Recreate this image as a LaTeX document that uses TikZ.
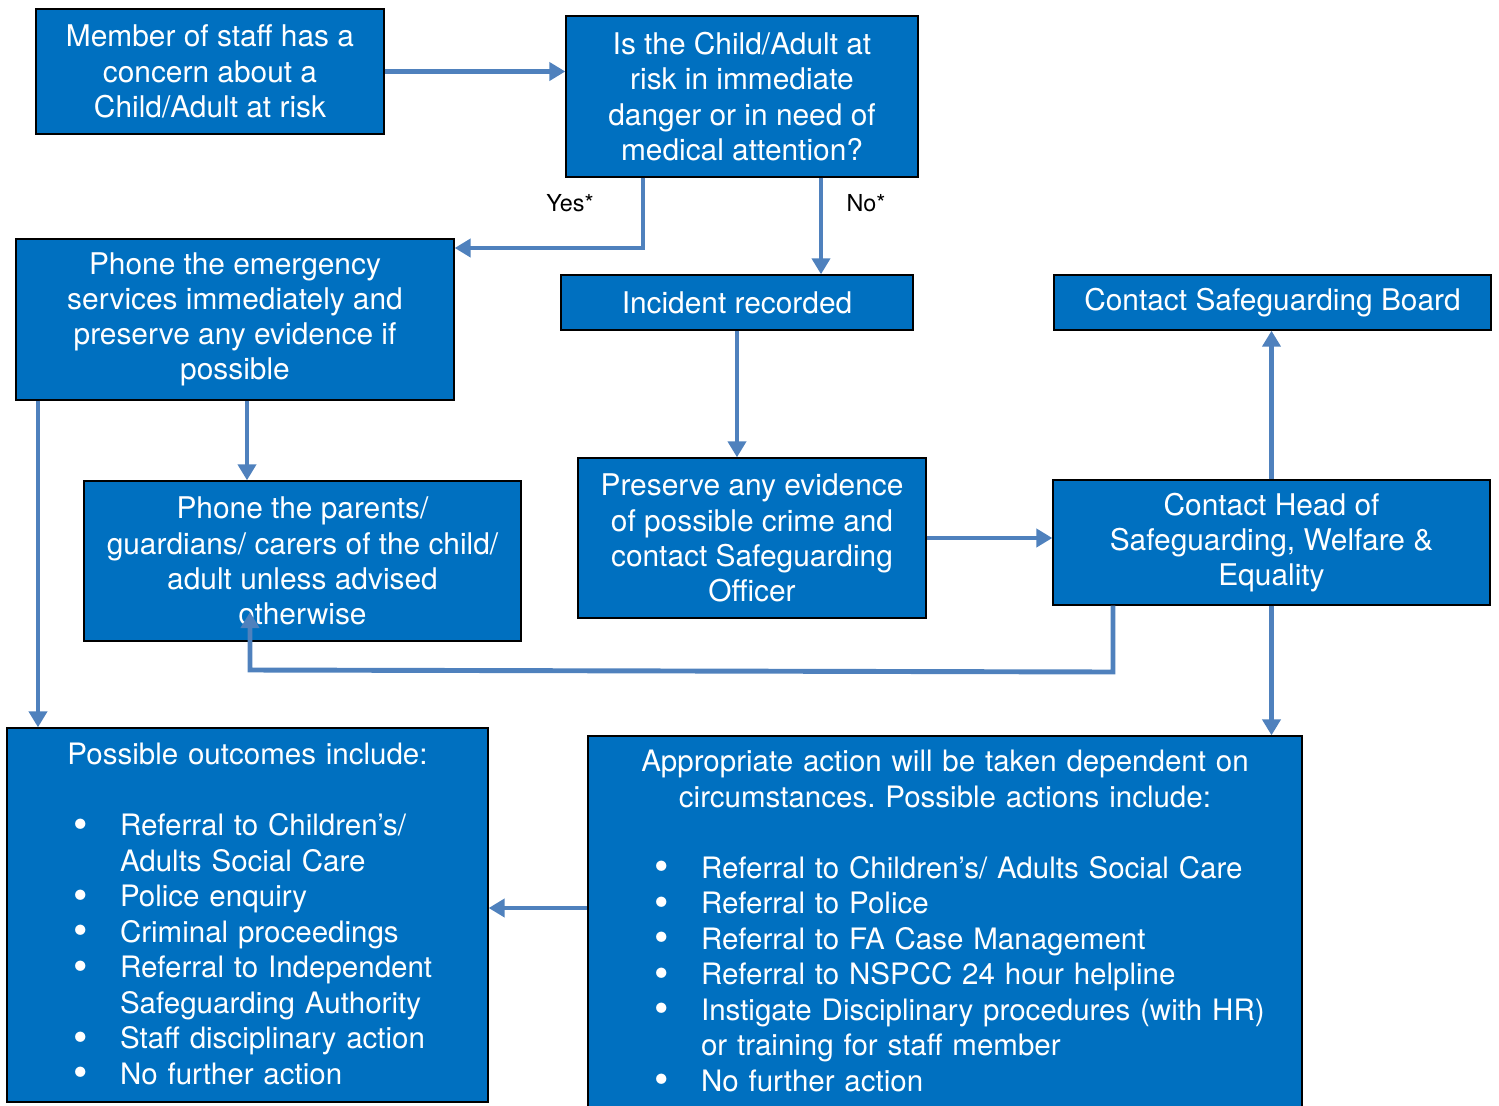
\documentclass[tikz,border=0pt]{standalone}
\usepackage{fontspec}
\setmainfont{TeX Gyre Heros}
\usetikzlibrary{arrows.meta}
\definecolor{boxblue}{RGB}{0,112,192}
\definecolor{arrowblue}{RGB}{79,129,189}
\frenchspacing

% one bullet line (or two) of a list box
\newcommand{\bul}[1]{\par\raggedright\leftskip=2.26cm\noindent
    \llap{\makebox[0.94cm][l]{\raisebox{-1.6pt}{\scalebox{1.4}{\textbullet}}}}#1}

\begin{document}
\begin{tikzpicture}[x=0.02cm,y=-0.02cm,>={Triangle[length=0.32cm,width=0.36cm]},
    box/.style={draw=black,line width=0.8pt,fill=boxblue,text=white,align=center,
        inner sep=0pt,font=\fontsize{17}{20}\selectfont},
    listbox/.style={draw=black,line width=0.8pt,fill=boxblue,text=white,
        inner sep=0pt,font=\fontsize{16.8}{20.2}\selectfont},
    arr/.style={->,draw=arrowblue,line width=2.8pt},
    lbl/.style={font=\fontsize{13.3}{15}\selectfont}]
        \clip (0,0) rectangle (1499,1106);

        % boxes of the top rows
        \node[box,minimum width=6.96cm,minimum height=2.5cm] (member) at (210,71.5)
            {Member of staff has a\\concern about a\\Child/Adult at risk};
        \node[box,minimum width=7.04cm,minimum height=3.22cm] (question) at (742,96.5)
            {Is the Child/Adult at\\risk in immediate\\danger or in need of\\medical attention?};
        \node[box,minimum width=8.76cm,minimum height=3.22cm] (emergency) at (235,319.5)
            {Phone the emergency\\services immediately and\\preserve any evidence if\\possible};
        \node[box,minimum width=7.04cm,minimum height=1.1cm] (incident) at (737,302.5)
            {Incident recorded};
        \node[box,minimum width=8.74cm,minimum height=1.1cm] (board) at (1272.5,302.5)
            {Contact Safeguarding Board};
        \node[box,minimum width=8.74cm,minimum height=3.2cm] (parents) at (302.5,561)
            {Phone the parents/\\guardians/ carers of the child/\\adult unless advised\\otherwise};
        \node[box,minimum width=6.96cm,minimum height=3.2cm] (preserve) at (752,538)
            {Preserve any evidence\\of possible crime and\\contact Safeguarding\\Officer};
        \node[box,minimum width=8.74cm,minimum height=2.5cm] (head) at (1271.5,542.5)
            {Contact Head of\\Safeguarding, Welfare \&\\Equality};

        % outcome boxes
        \node[listbox,minimum width=9.62cm,minimum height=7.48cm,text width=9.62cm] (outcomes) at (247.5,915)
            {{\centering Possible outcomes include:\par}
            \vspace{20.2pt}
            \bul{Referral to Children’s/\\Adults Social Care}
            \bul{Police enquiry}
            \bul{Criminal proceedings}
            \bul{Referral to Independent\\Safeguarding Authority}
            \bul{Staff disciplinary action}
            \bul{No further action}\par};
        \node[listbox,minimum width=14.28cm,minimum height=7.44cm,text width=14.28cm] (actions) at (945,922)
            {{\centering Appropriate action will be taken dependent on\\circumstances. Possible actions include:\par}
            \vspace{20.2pt}
            \bul{Referral to Children’s/ Adults Social Care}
            \bul{Referral to Police}
            \bul{Referral to FA Case Management}
            \bul{Referral to NSPCC 24 hour helpline}
            \bul{Instigate Disciplinary procedures (with HR)\\or training for staff member}
            \bul{No further action}\par};

        %coordinates for the bends
        \coordinate (yesbend) at (643,248);
        \coordinate (nocol) at (821,230);
        \coordinate (downcol) at (247,440);
        \coordinate (farleft) at (38,560);
        \coordinate (backright) at (1113,672);
        \coordinate (backleft) at (250,670);
        \coordinate (backtip) at (250,612);
        \coordinate (sidey) at (540,908);

        %yes / no
        \draw[arr] (member.east) -- (member.east -| question.west);
        \draw[arr] (question.south -| yesbend) -- (yesbend) -- (emergency.east |- yesbend);
        \draw[arr] (question.south -| nocol) -- (incident.north -| nocol);
        \node[lbl] (yes) at (570,203) {Yes*};
        \node[lbl] (no) at (866,203) {No*};

        %emergency branch
        \draw[arr] (emergency.south -| downcol) -- (parents.north -| downcol);
        \draw[arr] (emergency.south -| farleft) -- (outcomes.north -| farleft);

        %incident branch
        \draw[arr] (incident.south) -- (preserve.north -| incident.south);
        \draw[arr] (preserve.east) -- (preserve.east -| head.west);
        \draw[arr] (head.north) -- (head.north |- board.south);
        \draw[arr] (head.south) -- (head.south |- actions.north);
        \draw[arr] (head.south -| backright) -- (backright) -- (backleft) -- (backtip);
        \draw[arr] (actions.west |- sidey) -- (outcomes.east |- sidey);
\end{tikzpicture}
\end{document}
